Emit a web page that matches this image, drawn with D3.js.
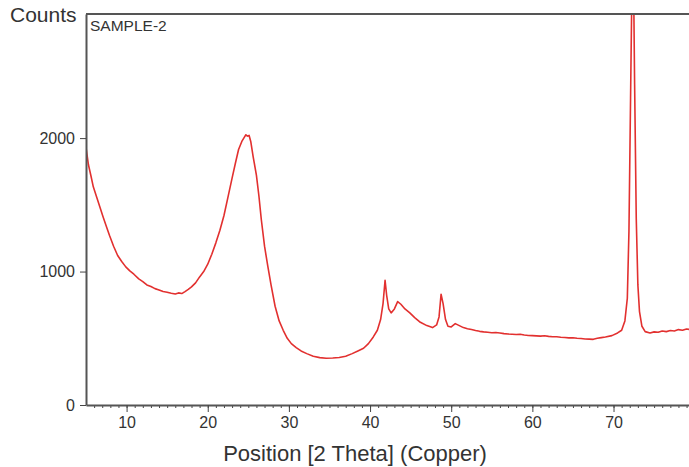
<!DOCTYPE html>
<html>
<head>
<meta charset="utf-8">
<script src="https://cdn.jsdelivr.net/npm/d3@7"></script>
<style>
  body { margin: 0; background: #fff; }
  text { font-family: "Liberation Sans", Arial, sans-serif; fill: #333; }
</style>
</head>
<body>
<svg class="xrd"></svg>
<script>
// diffraction scan
var theta = [5.0, 5.3, 5.6, 5.9, 6.3, 6.7, 7.1, 7.5, 7.9, 8.4, 8.9, 9.4, 9.9, 10.4, 10.9, 11.5, 12.0, 12.5, 13.0, 13.5,
  14.0, 14.5, 15.0, 15.5, 16.0, 16.4, 16.8, 17.2, 17.6, 18.0, 18.5, 19.0, 19.5, 20.0, 20.5, 21.0, 21.5, 22.0, 22.5, 23.0,
  23.4, 23.8, 24.2, 24.5, 24.7, 24.9, 25.1, 25.3, 25.6, 26.0, 26.3, 26.6, 27.0, 27.4, 27.8, 28.3, 28.8, 29.3, 29.8, 30.3,
  30.9, 31.5, 32.2, 33.0, 33.8, 34.6, 35.4, 36.2, 37.0, 37.8, 38.5, 39.2, 39.8, 40.4, 40.9, 41.3, 41.6, 41.85, 42.05, 42.3,
  42.6, 43.0, 43.4, 43.8, 44.3, 44.9, 45.5, 46.2, 47.0, 47.7, 48.2, 48.5, 48.75, 49.0, 49.3, 49.6, 50.0, 50.5, 51.0, 51.5,
  52.0, 52.5, 53.0, 53.5, 54.0, 54.5, 55.0, 55.5, 56.0, 56.5, 57.0, 57.5, 58.0, 58.5, 59.0, 59.5, 60.0, 60.5, 61.0, 61.5,
  62.0, 62.5, 63.0, 63.5, 64.0, 64.5, 65.0, 65.5, 66.0, 66.5, 67.0, 67.5, 68.0, 68.5, 69.0, 69.8, 70.5, 71.0, 71.4, 71.7,
  71.9, 72.1, 72.3, 72.45, 72.6, 72.8, 73.0, 73.2, 73.5, 73.9, 74.5, 75.0, 75.5, 76.0, 76.5, 77.0, 77.5, 78.0, 78.5, 79.0,
  79.5];
var counts = [1930, 1800, 1720, 1635, 1560, 1485, 1410, 1340, 1270, 1190, 1120, 1075, 1035, 1005, 980, 945, 925, 900, 888, 872,
  862, 850, 845, 838, 832, 840, 835, 850, 866, 885, 915, 960, 1000, 1055, 1130, 1215, 1310, 1420, 1560, 1700,
  1810, 1915, 1975, 2005, 2025, 2015, 2020, 1975, 1860, 1720, 1570, 1390, 1190, 1040, 900, 740, 630, 560, 500, 460,
  430, 405, 385, 365, 355, 350, 352, 356, 365, 385, 405, 425, 460, 510, 560, 640, 760, 935, 820, 720,
  690, 720, 775, 755, 720, 690, 655, 620, 595, 580, 600, 660, 830, 760, 640, 590, 585, 610, 595, 580,
  572, 566, 558, 552, 548, 545, 541, 543, 540, 535, 532, 530, 528, 530, 524, 521, 520, 518, 516, 519,
  514, 511, 512, 508, 506, 503, 504, 500, 498, 495, 494, 492, 500, 505, 510, 520, 540, 560, 630, 800,
  1300, 2300, 3300, 3300, 2400, 1400, 900, 700, 590, 550, 540, 548, 545, 555, 550, 558, 555, 565, 560, 570,
  565];
var yTicks = [0, 1000, 2000];
var xTicks = [10, 20, 30, 40, 50, 60, 70];

var width = 689, height = 467;
var plotLeft = 86, plotTop = 14, plotRight = 689, plotBottom = 405;

var svg = d3.select(".xrd")
    .attr("width", width)
    .attr("height", height);

var x = d3.scaleLinear().domain([5, 79.3]).range([plotLeft, plotRight]);
var y = d3.scaleLinear().domain([0, 2930]).range([plotBottom, plotTop]);

svg.append("clipPath").attr("id", "plot")
  .append("rect")
    .attr("x", plotLeft).attr("y", plotTop)
    .attr("width", plotRight - plotLeft).attr("height", plotBottom - plotTop);

var line = d3.line()
    .x(function (d, i) { return x(theta[i]); })
    .y(function (d) { return y(d); });

svg.append("path")
    .datum(counts)
    .attr("clip-path", "url(#plot)")
    .attr("fill", "none")
    .attr("stroke", "#e2302f")
    .attr("stroke-width", 1.6)
    .attr("stroke-linejoin", "round")
    .attr("d", line);

// top border of the frame
svg.append("line")
    .attr("x1", plotLeft).attr("x2", plotRight)
    .attr("y1", plotTop).attr("y2", plotTop)
    .attr("stroke", "#555").attr("stroke-width", 2);

// minor ticks every degree
svg.append("g")
    .attr("transform", "translate(0," + plotBottom + ")")
    .call(d3.axisBottom(x).tickValues(d3.range(6, 80)).tickSize(3).tickFormat(""))
    .call(function (g) { g.select(".domain").remove(); });

var xAxis = svg.append("g")
    .attr("transform", "translate(0," + plotBottom + ")")
    .call(d3.axisBottom(x).tickValues(xTicks).tickSize(7).tickPadding(5).tickSizeOuter(0));
xAxis.selectAll("text").style("font-size", "16px");

var yAxis = svg.append("g")
    .attr("transform", "translate(" + plotLeft + ",0)")
    .call(d3.axisLeft(y).tickValues(yTicks).tickFormat(d3.format("d"))
      .tickSize(6).tickPadding(5).tickSizeOuter(0));
yAxis.selectAll("text").style("font-size", "16px");

svg.selectAll(".domain").attr("stroke", "#555").attr("stroke-width", 2);
svg.selectAll(".tick line").attr("stroke", "#444");
svg.selectAll(".tick text").attr("fill", "#333");

svg.append("text")
    .attr("x", 10).attr("y", 22)
    .style("font-size", "21px")
    .text("Counts");

svg.append("text")
    .attr("x", 90).attr("y", 31)
    .style("font-size", "15.5px")
    .text("SAMPLE-2");

svg.append("text")
    .attr("x", 355).attr("y", 461)
    .attr("text-anchor", "middle")
    .style("font-size", "22px")
    .text("Position [2 Theta] (Copper)");
</script>
</body>
</html>
